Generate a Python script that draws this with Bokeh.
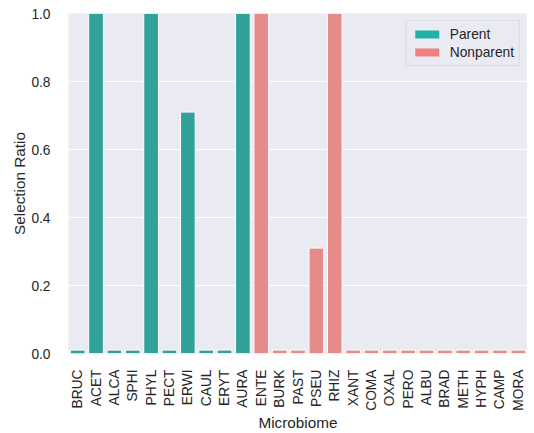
from bokeh.plotting import figure
from bokeh.models import ColumnDataSource, Legend, LegendItem, FixedTicker, Range1d, PrintfTickFormatter
from bokeh.embed import file_html
from bokeh.resources import INLINE
from math import pi

categories = ["BRUC", "ACET", "ALCA", "SPHI", "PHYL", "PECT", "ERWI", "CAUL", "ERYT", "AURA",
              "ENTE", "BURK", "PAST", "PSEU", "RHIZ", "XANT", "COMA", "OXAL", "PERO", "ALBU",
              "BRAD", "METH", "HYPH", "CAMP", "MORA"]
groups = ["Parent"] * 10 + ["Nonparent"] * 15
values = [0.01, 1.0, 0.01, 0.01, 1.0, 0.01, 0.71, 0.01, 0.01, 1.0,
          1.0, 0.01, 0.01, 0.31, 1.0, 0.01, 0.01, 0.01, 0.01, 0.01,
          0.01, 0.01, 0.01, 0.01, 0.01]
y_ticks = [0.0, 0.2, 0.4, 0.6, 0.8, 1.0]

bar_colors = {"Parent": "#30a29a", "Nonparent": "#e58b8a"}
legend_colors = {"Parent": "#20B2AA", "Nonparent": "#F08080"}

FONT = "Liberation Sans"

p = figure(x_range=categories, width=527, height=433, output_backend="svg",
           toolbar_location=None, min_border_left=68, min_border_right=0,
           min_border_top=13, min_border_bottom=78)
p.y_range = Range1d(0, 1.0)
p.background_fill_color = "#EAEAF2"
p.border_fill_color = "white"
p.outline_line_color = None

src = ColumnDataSource(dict(x=categories, top=values,
                            color=[bar_colors[g] for g in groups]))

items = []
for g in ["Parent", "Nonparent"]:
    # legend-only swatch, drawn well below the visible y range
    r = p.vbar(x=[categories[0]], bottom=[-3.0], top=[-2.0], width=0.8,
               fill_color=legend_colors[g], line_color=None)
    items.append(LegendItem(label=g, renderers=[r]))

p.vbar(x="x", top="top", width=0.8, source=src, fill_color="color",
       line_color="white", line_width=1)

legend = Legend(items=items, location="top_right")
legend.label_text_font = FONT
legend.label_text_font_size = "13.75px"
legend.label_text_color = "#262626"
legend.glyph_width = 30
legend.glyph_height = 10
legend.background_fill_color = "#EAEAF2"
legend.background_fill_alpha = 0.8
legend.border_line_color = "#cccccc"
legend.border_line_width = 1
legend.padding = 5
legend.spacing = 2
legend.margin = 7
legend.label_standoff = 8
legend.label_height = 16
p.add_layout(legend, "center")

p.xgrid.grid_line_color = None
p.ygrid.grid_line_color = "white"
p.ygrid.grid_line_width = 1.2
p.yaxis.ticker = FixedTicker(ticks=y_ticks)
p.yaxis.formatter = PrintfTickFormatter(format="%.1f")

for ax in (p.xaxis[0], p.yaxis[0]):
    ax.axis_line_color = None
    ax.major_tick_line_color = None
    ax.minor_tick_line_color = None
    ax.major_label_text_font = FONT
    ax.major_label_text_font_size = "13.75px"
    ax.major_label_text_color = "#262626"
    ax.axis_label_text_font = FONT
    ax.axis_label_text_font_size = "15.3px"
    ax.axis_label_text_font_style = "normal"
    ax.axis_label_text_color = "#262626"

p.xaxis.major_label_orientation = pi / 2
p.xaxis.major_label_standoff = 10
p.yaxis.major_label_standoff = 12
p.xaxis.axis_label = "Microbiome"
p.yaxis.axis_label = "Selection Ratio"
p.xaxis.axis_label_standoff = 0
p.yaxis.axis_label_standoff = 0

open("out.html", "w").write(file_html(p, INLINE))
